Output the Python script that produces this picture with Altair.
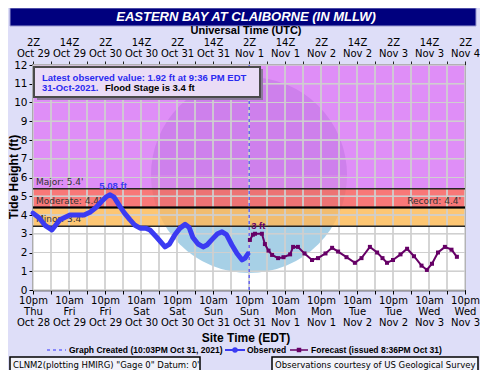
import json
import altair as alt
import pandas as pd

# ---------------- data ----------------
# hours after 10pm EDT Thu Oct 28 2021
obs_hours = [0, 2, 4, 6.3, 9, 12.3, 15, 17, 19, 21, 23, 24.5, 25.7, 27, 29, 30.5, 32.3,
             34, 35.7, 37.5, 39, 41.3, 44, 45.5, 47.3, 49, 50.7, 52, 53.3, 55, 56.7, 58,
             59.7, 61.5, 63, 64.5, 66.3, 68, 69.7, 70.7, 71.6]
obs_values = [4.1, 3.85, 3.45, 3.2, 3.75, 4.0, 4.0, 4.0, 4.15, 4.4, 4.75, 4.98, 5.08, 4.95,
              4.45, 4.1, 3.75, 3.45, 3.3, 3.3, 3.2, 2.8, 2.3, 2.45, 2.95, 3.3, 3.5, 3.35,
              2.8, 2.45, 2.3, 2.4, 2.7, 3.0, 3.1, 2.95, 2.4, 1.95, 1.6, 1.7, 1.92]

fc_hours = [72.3, 73.3, 74, 76.3, 77.3, 78.5, 79.7, 81.7, 83.5, 85.7, 86.7, 88.3, 90.5, 93,
            95, 97.5, 99.7, 101.7, 104.5, 107.3, 109.5, 112.3, 114.7, 116.5, 118, 120,
            122.5, 124.7, 127, 129.5, 131.3, 133, 135, 137.3, 139.5, 141.3]
fc_values = [2.67, 2.95, 3.0, 3.0, 2.45, 2.1, 1.87, 1.7, 1.75, 1.9, 2.3, 2.3, 1.95, 1.6,
             1.7, 1.95, 2.25, 2.05, 1.75, 1.45, 1.7, 2.3, 2.0, 1.7, 1.45, 1.6,
             1.9, 2.2, 1.8, 1.3, 1.07, 1.4, 2.0, 2.3, 2.15, 1.77]

bottom_labels = ["10pm|Thu|Oct 28", "10am|Fri|Oct 29", "10pm|Fri|Oct 29", "10am|Sat|Oct 30",
                 "10pm|Sat|Oct 30", "10am|Sun|Oct 31", "10pm|Sun|Oct 31", "10am|Mon|Nov 1",
                 "10pm|Mon|Nov 1", "10am|Tue|Nov 2", "10pm|Tue|Nov 2", "10am|Wed|Nov 3",
                 "10pm|Wed|Nov 3"]
top_labels = ["2Z|Oct 29", "14Z|Oct 29", "2Z|Oct 30", "14Z|Oct 30", "2Z|Oct 31", "14Z|Oct 31",
              "2Z|Nov 1", "14Z|Nov 1", "2Z|Nov 2", "14Z|Nov 2", "2Z|Nov 3", "14Z|Nov 3",
              "2Z|Nov 4"]

band_names = ["Normal", "Minor", "Moderate", "Major"]
band_low = [0, 3.4, 4.4, 5.4]
band_high = [3.4, 4.4, 5.4, 12]
band_colors = ["#ffffff", "#fdc673", "#f87878", "#df8ef7"]

stage_names = ["Minor: 3.4'", "Moderate: 4.4'", "Major: 5.4'"]
stage_values = [3.4, 4.4, 5.4]
record_label = "Record: 4.4'"
record_value = 4.4

grid_hours = list(range(0, 145, 6))
grid_feet = list(range(0, 13))
created_hour = 72.05
obs_peak_hour, obs_peak_value = 25.7, 5.08
fc_peak_hour, fc_peak_value = 75.1, 3.0

# ---------------- helpers ----------------
X_DOMAIN = [0, 144]
Y_DOMAIN = [0, 12]
xs = alt.Scale(domain=X_DOMAIN, nice=False, zero=False)
ys = alt.Scale(domain=Y_DOMAIN, nice=False, zero=False)
one = pd.DataFrame({"a": [0]})
FONT = "DejaVu Sans"
ARIAL = "Liberation Sans"
OBS_COLOR = "#3b3bf2"
FC_COLOR = "#660066"
GRID = "#cfcfcf"
PW, PH = 432, 225


def label(txt, x, y, size=10, weight="normal", color="black", align="left",
          font=FONT, style="normal", angle=0):
    return alt.Chart(one).mark_text(
        text=txt, align=align, baseline="middle", fontSize=size, fontWeight=weight,
        color=color, font=font, fontStyle=style, angle=angle
    ).encode(x=alt.value(x), y=alt.value(y))


def box(x0, x1, y0, y1, fill, stroke=None, sw=0):
    kw = dict(fill=fill)
    if stroke:
        kw.update(stroke=stroke, strokeWidth=sw)
    return alt.Chart(one).mark_rect(**kw).encode(
        x=alt.value(x0), x2=alt.value(x1), y=alt.value(y0), y2=alt.value(y1))


def arc(t0, t1, fill, opacity):
    return alt.Chart(one).mark_arc(fill=fill, opacity=opacity).encode(
        theta=alt.value(t0), theta2=alt.value(t1), radius=alt.value(98),
        x=alt.value(216), y=alt.value(110))


def split_expr(labels):
    arr = json.dumps(labels)
    return f"datum.value % 12 == 0 ? split({arr}[datum.value / 12], '|') : ''"


left_axis = alt.Axis(orient="left", values=grid_feet, tickSize=4, labelPadding=2,
                     labelFont=FONT, labelFontSize=10.5, labelColor="black",
                     domainColor="black", domainWidth=1.5, tickColor="black",
                     grid=False, title=None, labelFlush=False)
top_axis = alt.Axis(orient="top", values=grid_hours, labelExpr=split_expr(top_labels),
                    tickSize=4, labelPadding=14, labelFont=FONT, labelFontSize=10,
                    labelColor="black", labelLineHeight=11, labelAngle=0,
                    labelOverlap=False, labelFlush=False, labelBound=False,
                    domainColor="#222", tickColor="#222", grid=False, title=None)
bottom_axis = alt.Axis(orient="bottom", values=grid_hours,
                       labelExpr=split_expr(bottom_labels),
                       tickSize=4, labelPadding=1, labelFont=FONT, labelFontSize=10,
                       labelColor="black", labelLineHeight=11, labelAngle=0,
                       labelOverlap=False, labelFlush=False, labelBound=False,
                       domainColor="black", domainWidth=1.5, tickColor="black",
                       grid=False, title=None)


def Yq(field):
    return alt.Y(field, scale=ys, axis=left_axis)


# ---------------- layers ----------------
bands_df = pd.DataFrame({"name": band_names, "low": band_low, "high": band_high,
                         "color": band_colors})
band_base = alt.Chart(bands_df).mark_rect().encode(
    x=alt.value(0), x2=alt.value(PW),
    y=Yq("low:Q"), y2="high:Q",
    color=alt.Color("color:N", scale=None),
)
band_white = band_base.transform_filter(alt.datum.name == "Normal")
band_flood = band_base.transform_filter(alt.datum.name != "Normal")

# NOAA watermark approximation
disk_water = arc(0, 6.2832, "#aedcf3", 1)
disk_top = arc(4.7124, 7.854, "#6a2aaa", 0.14)
disk_bot = arc(1.5708, 4.7124, "#5a3a40", 0.07)

# grid as outlined cells (one per 6 h x 1 ft)
cells = pd.DataFrame([(h, v) for h in grid_hours[:-1] for v in grid_feet[:-1]],
                     columns=["cx", "cy"])
grid_cells = alt.Chart(cells).transform_calculate(
    cx2="datum.cx + 6", cy2="datum.cy + 1"
).mark_rect(fillOpacity=0, stroke=GRID, strokeWidth=1).encode(
    x=alt.X("cx:Q", scale=xs, axis=None), x2="cx2:Q",
    y=Yq("cy:Q"), y2="cy2:Q")

grid_v = alt.Chart(pd.DataFrame({"gridx": grid_hours})).mark_rule(
    color=GRID, strokeWidth=1).encode(
    x=alt.X("gridx:Q", scale=xs, axis=top_axis))
grid_h = alt.Chart(pd.DataFrame({"gridy": grid_feet})).mark_rule(
    color=GRID, strokeWidth=1).encode(y=Yq("gridy:Q"))

stages_df = pd.DataFrame({"name": stage_names, "v": stage_values})
stage_lines = alt.Chart(stages_df).mark_rule(color="#262626", strokeWidth=1.5).encode(
    y=Yq("v:Q"))
record_line = alt.Chart(pd.DataFrame({"v": [record_value]})).mark_rule(
    color="black", strokeWidth=2).encode(y=Yq("v:Q"))
stage_text = alt.Chart(stages_df).mark_text(
    align="left", baseline="middle", dy=-7, font=FONT, fontSize=9, color="#333"
).encode(x=alt.value(3), y=Yq("v:Q"), text="name:N")
record_text = alt.Chart(pd.DataFrame({"v": [record_value], "t": [record_label]})).mark_text(
    align="right", baseline="middle", dy=-7, font=FONT, fontSize=9, color="#333"
).encode(x=alt.value(428), y=Yq("v:Q"), text="t:N")

created = alt.Chart(pd.DataFrame({"h": [created_hour]})).mark_rule(
    color="#3030ff", strokeWidth=1, strokeDash=[3, 3]).encode(
    x=alt.X("h:Q", scale=xs, axis=None))

obs_df = pd.DataFrame({"h": obs_hours, "v": obs_values})
observed = alt.Chart(obs_df).mark_line(
    color=OBS_COLOR, strokeWidth=5, strokeJoin="round", strokeCap="round").encode(
    x=alt.X("h:Q", scale=xs, axis=bottom_axis),
    y=Yq("v:Q"))

fc_df = pd.DataFrame({"h": fc_hours, "v": fc_values})
forecast = alt.Chart(fc_df).mark_line(
    color=FC_COLOR, strokeWidth=2,
    point=alt.OverlayMarkDef(shape="square", size=16, filled=True, color=FC_COLOR)).encode(
    x=alt.X("h:Q", scale=xs, axis=None),
    y=Yq("v:Q"))

peak_obs = alt.Chart(pd.DataFrame({"h": [obs_peak_hour], "v": [obs_peak_value]})).mark_text(
    text=f"{obs_peak_value:.2f} ft", dy=-9, dx=3, font=ARIAL, fontSize=9.5,
    fontWeight="bold", color=OBS_COLOR).encode(
    x=alt.X("h:Q", scale=xs, axis=None), y=Yq("v:Q"))
peak_fc = alt.Chart(pd.DataFrame({"h": [fc_peak_hour], "v": [fc_peak_value]})).mark_text(
    text=f"{fc_peak_value:g} ft", dy=-8, font=ARIAL, fontSize=9.5,
    fontWeight="bold", color=FC_COLOR).encode(
    x=alt.X("h:Q", scale=xs, axis=None), y=Yq("v:Q"))

# info box
info_shadow = box(4, 230, 4, 35, "#8a7a9a")
info_box = box(1, 227, 2, 32, "#eadcf6", "#4a4a4a", 2)
info1 = label("Latest observed value: 1.92 ft at 9:36 PM EDT", 9, 13, 9.5, "bold",
              "#2a2af0", font=ARIAL)
info2a = label("31-Oct-2021.", 9, 23, 9.5, "bold", "#2a2af0", font=ARIAL)
info2b = label("Flood Stage is 3.4 ft", 72, 23, 9.5, "bold", "black", font=ARIAL)

# header
title_bar = box(-23, 443, -57, -39, "#00007e", "#9a9ad0", 1)
title_txt = label("EASTERN BAY AT CLAIBORNE (IN MLLW)", 213, -48, 13, "bold", "white",
                  "center", ARIAL, "italic")
utc_txt = label("Universal Time (UTC)", 213, -34, 11, "bold", "black", "center", ARIAL)
ytitle = label("Tide Height (ft)", -19, 112, 12, "bold", "black", "center", ARIAL, angle=270)

# footer
site_txt = label("Site Time (EDT)", 213, 273, 12, "bold", "black", "center", ARIAL)
leg_y = 285
leg_dash = alt.Chart(one).mark_rule(color="#3030ff", strokeDash=[3, 3], strokeWidth=1).encode(
    x=alt.value(14), x2=alt.value(33), y=alt.value(leg_y))
leg_t1 = label("Graph Created (10:03PM Oct 31, 2021)", 36, leg_y, 8.5, "bold", font=ARIAL)
leg_obs_line = alt.Chart(one).mark_rule(color=OBS_COLOR, strokeWidth=2).encode(
    x=alt.value(192), x2=alt.value(212), y=alt.value(leg_y))
leg_obs_pt = alt.Chart(one).mark_point(shape="circle", filled=True, size=30, color=OBS_COLOR,
                                       opacity=1).encode(x=alt.value(202), y=alt.value(leg_y))
leg_t2 = label("Observed", 214, leg_y, 8.5, "bold", font=ARIAL)
leg_fc_line = alt.Chart(one).mark_rule(color=FC_COLOR, strokeWidth=1.5).encode(
    x=alt.value(257), x2=alt.value(275), y=alt.value(leg_y))
leg_fc_pt = alt.Chart(one).mark_point(shape="square", filled=True, size=20, color=FC_COLOR,
                                      opacity=1).encode(x=alt.value(266), y=alt.value(leg_y))
leg_t3 = label("Forecast (issued 8:36PM Oct 31)", 278, leg_y, 8.5, "bold", font=ARIAL)

foot_l = box(-23, 167, 292, 306, "#f2f2fa", "black", 1.5)
foot_l_t = label("CLNM2(plotting HMIRG) \"Gage 0\" Datum: 0'", -20, 299.5, 8.5)
foot_r = box(239, 445, 292, 306, "#f2f2fa", "black", 1.5)
foot_r_t = label("Observations courtesy of US Geological Survey", 242, 299.5, 8.5)

chart = alt.layer(
    band_white, disk_water, band_flood, disk_top, disk_bot,
    grid_cells, grid_v, grid_h, stage_lines, record_line, stage_text, record_text,
    created, observed, forecast, peak_obs, peak_fc,
    info_shadow, info_box, info1, info2a, info2b,
    title_bar, title_txt, utc_txt, ytitle,
    site_txt, leg_dash, leg_t1, leg_obs_line, leg_obs_pt, leg_t2,
    leg_fc_line, leg_fc_pt, leg_t3,
    foot_l, foot_l_t, foot_r, foot_r_t,
).resolve_axis(x="independent").properties(
    width=PW, height=PH,
    autosize=alt.AutoSizeParams(type="none"),
    padding={"left": 25, "top": 57, "right": 15, "bottom": 80},
    background="#dedef8",
).configure_view(stroke="#333", strokeWidth=1.5)

chart.save("out.html", embed_options={"renderer": "svg", "actions": False})
